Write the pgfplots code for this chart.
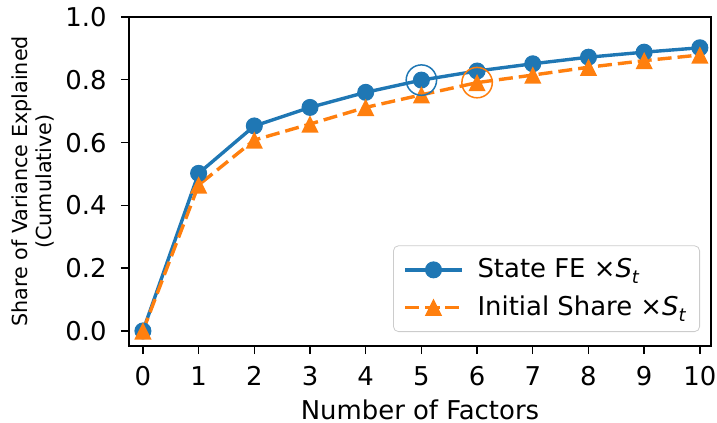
\documentclass[border=0pt]{standalone}
\usepackage{fontspec}
\setmainfont{DejaVu Sans}
\usepackage{pgfplots}
\pgfplotsset{compat=1.18}
\definecolor{c0}{HTML}{1F77B4}
\definecolor{c1}{HTML}{FF7F0E}
\pgfdeclareplotmark{mtri}{%
  \pgfpathmoveto{\pgfqpoint{0pt}{\pgfplotmarksize}}%
  \pgfpathlineto{\pgfqpoint{-\pgfplotmarksize}{-\pgfplotmarksize}}%
  \pgfpathlineto{\pgfqpoint{\pgfplotmarksize}{-\pgfplotmarksize}}%
  \pgfpathclose\pgfusepathqfill}
\pgfplotstableread{
x y
0 0.000
1 0.502
2 0.653
3 0.712
4 0.760
5 0.799
6 0.828
7 0.851
8 0.872
9 0.888
10 0.902
}\statefe
\pgfplotstableread{
x y
0 0.000
1 0.465
2 0.608
3 0.659
4 0.712
5 0.752
6 0.791
7 0.815
8 0.840
9 0.861
10 0.879
}\initshare
\begin{document}
\begin{tikzpicture}
\useasboundingbox (-64.5bp,-38.5bp) rectangle (294bp,173bp);
\begin{axis}[
  at={(0,0)}, anchor=south west,
  scale only axis, width=291bp, height=164.5bp,
  xmin=-0.25, xmax=10.2, ymin=-0.048, ymax=1.0,
  xtick={0,1,...,10}, ytick={0,0.2,0.4,0.6,0.8,1.0},
  /pgf/number format/assume math mode=true,
  tick align=outside, major tick length=4bp,
  xtick pos=bottom, ytick pos=left,
  axis line style={line width=0.7bp},
  every tick/.style={line width=0.7bp, black},
  tick label style={font=\fontsize{13}{15}\selectfont},
  xticklabel style={inner sep=0pt, anchor=north, yshift=-6bp},
  yticklabel style={inner sep=0pt, anchor=east, xshift=-7bp,
    /pgf/number format/fixed, /pgf/number format/fixed zerofill, /pgf/number format/precision=1},
  xlabel={Number of Factors},
  ylabel={Share of Variance Explained\\(Cumulative)},
  every axis x label/.style={at={(axis description cs:0.5,0)}, yshift=-32bp, anchor=center, font=\fontsize{13}{15}\selectfont},
  every axis y label/.style={at={(axis description cs:-0.165,0.5)}, rotate=90, anchor=center, align=center, font=\fontsize{10.4}{12.5}\selectfont},
  legend style={at={(rel axis cs:1,0)}, anchor=south east, xshift=-5.5bp, yshift=7bp,
    draw=black!20, rounded corners=2.5bp, fill=white,
    font=\fontsize{13}{15}\selectfont, row sep=3.5bp, inner xsep=5bp, inner ysep=4.5bp,
    /tikz/every odd column/.style={column sep=5bp}},
  legend cell align=left,
  legend image code/.code={\draw[mark repeat=2, mark phase=2] plot coordinates {(0cm,0cm) (0.5cm,0cm) (1cm,0cm)};},
]
\addplot[c0, line width=1.7bp, mark=*, mark size=4bp, mark options={solid, line width=0.5bp}] table[x=x,y=y]{\statefe};
\addlegendentry{State FE ×\textit{S}\raisebox{-0.4ex}{\fontsize{9}{10}\selectfont\itshape t}}
\addplot[c1, line width=1.7bp, dash pattern=on 7bp off 3bp, mark=mtri, mark size=4.3bp, mark options={solid}] table[x=x,y=y]{\initshare};
\addlegendentry{Initial Share ×\textit{S}\raisebox{-0.4ex}{\fontsize{9}{10}\selectfont\itshape t}}
\addplot[c0, only marks, mark=o, mark size=7.6bp, mark options={line width=0.75bp}, forget plot] coordinates {(5,0.799)};
\addplot[c1, only marks, mark=o, mark size=7.6bp, mark options={line width=0.75bp}, forget plot] coordinates {(6,0.791)};
\end{axis}
\end{tikzpicture}
\end{document}
